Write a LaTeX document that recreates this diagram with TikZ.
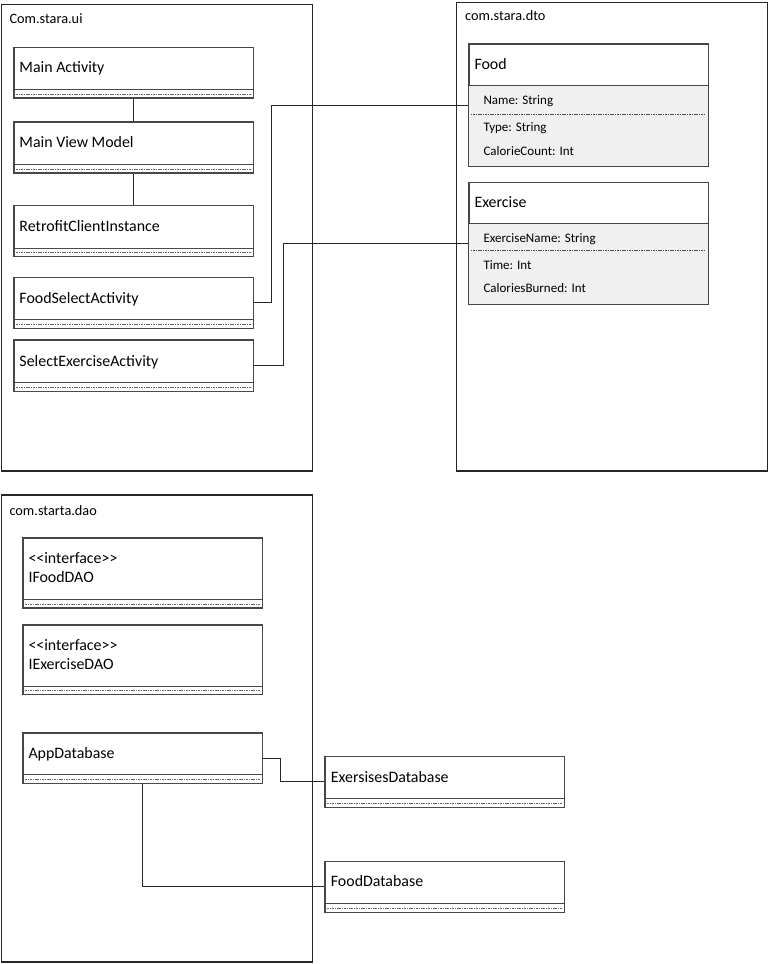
\documentclass[tikz,border=0pt]{standalone}
\usepackage{fontspec}
\setmainfont{Carlito}
\begin{document}
\begin{tikzpicture}[x=1pt,y=-1pt,
  pkg/.style={draw=black!85, line width=1.2pt},
  cls/.style={draw=black!72, line width=1.2pt, fill=white, inner sep=0pt, anchor=north west},
  clsline/.style={draw=black!72, line width=1.1pt},
  stripdash/.style={draw=black!60, line width=0.7pt, dash pattern=on 1.6pt off 0.8pt},
  attrdash/.style={draw=black!70, line width=0.6pt, dash pattern=on 1.6pt off 0.8pt},
  conn/.style={draw=black!85, line width=1.1pt},
  pkglabel/.style={anchor=base west, inner sep=0pt, font=\fontsize{14.3}{17}\selectfont},
  clsname/.style={anchor=base west, inner sep=0pt, font=\fontsize{15.9}{18}\selectfont},
  attr/.style={anchor=base west, inner sep=0pt, font=\fontsize{13}{15}\selectfont}]
\newcommand\opstrip[1]{%
  \draw[clsline] ([yshift=9pt]#1.south west) -- ([yshift=9pt]#1.south east);
  \draw[stripdash] ([xshift=3pt,yshift=4.5pt]#1.south west) -- ([xshift=-3pt,yshift=4.5pt]#1.south east);}
\newcommand\stereo[1]{<\kern0pt<#1>\kern0pt>}
\useasboundingbox[fill=white] (0,0) rectangle (769,964);

% packages
\draw[pkg] (1.3,4.3) rectangle (312.7,471);
\draw[pkg] (456.3,2.3) rectangle (767.7,471);
\draw[pkg] (1.5,495) rectangle (312.7,962);
\node[pkglabel] (pui) at (9.3,23.3) {Com.stara.ui};
\node[pkglabel] (pdto) at (465,20) {com.stara.dto};
\node[pkglabel] (pdao) at (9.3,515) {com.starta.dao};

% com.stara.ui classes
\node[cls, minimum width=239.4pt, minimum height=50.6pt] (ma) at (13.3,46.7) {};
\opstrip{ma}
\node[clsname] (ma-t) at (19.3,72.3) {Main Activity};
\node[cls, minimum width=239.4pt, minimum height=51pt] (mvm) at (13.3,121.3) {};
\opstrip{mvm}
\node[clsname] (mvm-t) at (19.3,147.3) {Main View Model};
\node[cls, minimum width=239.4pt, minimum height=51pt] (rci) at (13.3,205) {};
\opstrip{rci}
\node[clsname] (rci-t) at (19.3,231) {RetrofitClientInstance};
\node[cls, minimum width=239.4pt, minimum height=51pt] (fsa) at (13.3,276.7) {};
\opstrip{fsa}
\node[clsname] (fsa-t) at (19.3,303.3) {FoodSelectActivity};
\node[cls, minimum width=239.4pt, minimum height=51.4pt] (sea) at (13.3,339.3) {};
\opstrip{sea}
\node[clsname] (sea-t) at (19.3,366) {SelectExerciseActivity};

% com.stara.dto classes
\node[cls, minimum width=239.4pt, minimum height=122.4pt] (food) at (468.3,43.3) {};
\draw[clsline, fill=black!6] ([yshift=-42pt]food.north west) rectangle (food.south east);
\draw[attrdash] ([xshift=2.5pt]food.west |- 0,114) -- ([xshift=-3.5pt]food.east |- 0,114);
\node[clsname] (food-t) at (474.3,69) {Food};
\node[attr] (food-a1) at (483.3,104.3) {Name: String};
\node[attr] (food-a2) at (483.3,131.7) {Type: String};
\node[attr] (food-a3) at (483.3,155.3) {CalorieCount: Int};

\node[cls, minimum width=239.4pt, minimum height=121.6pt] (ex) at (468.3,181.7) {};
\draw[clsline, fill=black!6] ([yshift=-41.6pt]ex.north west) rectangle (ex.south east);
\draw[attrdash] ([xshift=2.5pt]ex.west |- 0,250.7) -- ([xshift=-3.5pt]ex.east |- 0,250.7);
\node[clsname] (ex-t) at (474.3,207) {Exercise};
\node[attr] (ex-a1) at (483.3,242.7) {ExerciseName: String};
\node[attr] (ex-a2) at (483.3,269.7) {Time: Int};
\node[attr] (ex-a3) at (483.3,292.7) {CaloriesBurned: Int};

% com.starta.dao classes
\node[cls, minimum width=239.4pt, minimum height=70pt] (ifd) at (22.3,537.3) {};
\opstrip{ifd}
\node[clsname] (ifd-s) at (28.3,563.3) {\stereo{interface}};
\node[clsname] (ifd-t) at (28.3,582.3) {IFoodDAO};
\node[cls, minimum width=239.4pt, minimum height=69.7pt] (ied) at (22.3,624.3) {};
\opstrip{ied}
\node[clsname] (ied-s) at (28.3,650) {\stereo{interface}};
\node[clsname] (ied-t) at (28.3,669) {IExerciseDAO};
\node[cls, minimum width=239.4pt, minimum height=50.4pt] (app) at (22.3,732.3) {};
\opstrip{app}
\node[clsname] (app-t) at (28.3,758.3) {AppDatabase};

\node[cls, minimum width=239.7pt, minimum height=51pt] (exdb) at (324.3,755.7) {};
\opstrip{exdb}
\node[clsname] (exdb-t) at (330.7,782.3) {ExersisesDatabase};
\node[cls, minimum width=239.7pt, minimum height=51pt] (fdb) at (324.3,860.7) {};
\opstrip{fdb}
\node[clsname] (fdb-t) at (330.7,886.7) {FoodDatabase};

% associations
\draw[conn] (ma.south) -- (mvm.north);
\draw[conn] (mvm.south) -- (rci.north);
\draw[conn] (fsa.east) -- ++(17.3,0) |- (food.west);
\draw[conn] (sea.east) -- ++(30,0) |- (ex.west);
\draw[conn] (app.east) -- ++(17.3,0) |- (exdb.west);
\draw[conn] (app.south) |- (fdb.west);
\end{tikzpicture}
\end{document}
